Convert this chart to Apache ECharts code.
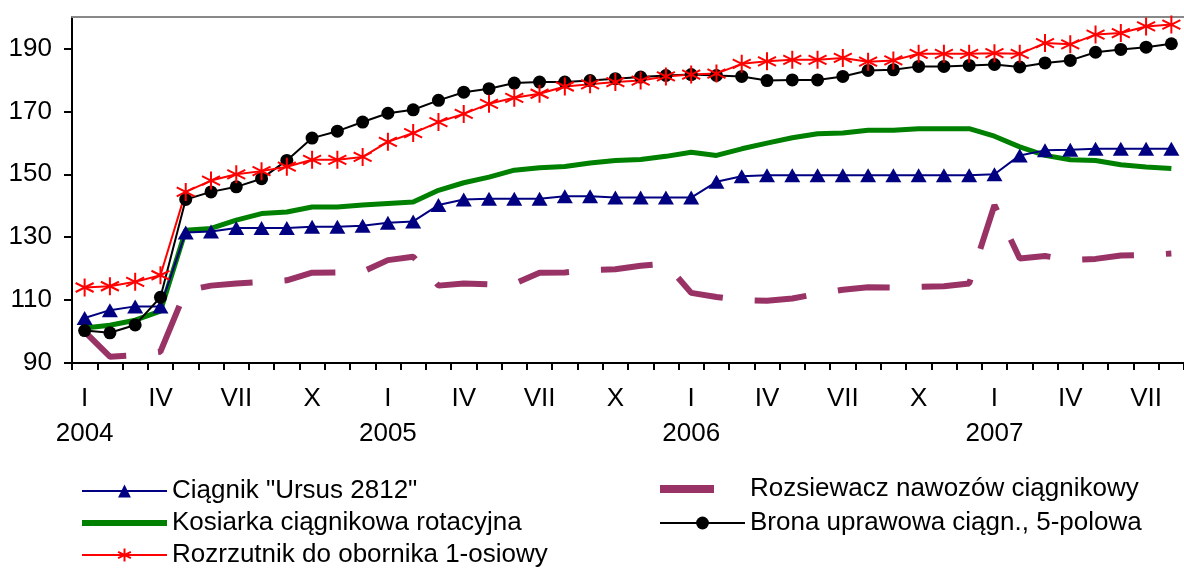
<!DOCTYPE html>
<html>
<head>
<meta charset="utf-8">
<script src="https://cdn.jsdelivr.net/npm/echarts@6/dist/echarts.min.js"></script>
<style>
  html, body { margin: 0; padding: 0; background: #fff; }
  #chart { width: 1184px; height: 570px; }
</style>
</head>
<body>
<div id="chart"></div>
<script>
// osie: lata i miesiące (rzymskie)
const years = ['2004', '2005', '2006', '2007']
const months = ['I', 'II', 'III', 'IV', 'V', 'VI', 'VII', 'VIII', 'IX', 'X', 'XI', 'XII']
const shownMonths = ['I', 'IV', 'VII', 'X']
const lastMonth2007 = 8 // do VIII 2007

// indeksy cen
const ursus = [104.3, 106.8, 108, 108, 131.5, 131.8, 132.9, 132.9, 132.9, 133.3, 133.3, 133.6,
  134.6, 135, 140.2, 142, 142.2, 142.2, 142.2, 143, 143, 142.6, 142.6, 142.6,
  142.6, 147.6, 149.4, 149.7, 149.7, 149.7, 149.7, 149.7, 149.7, 149.7, 149.7, 149.7,
  150, 156, 157.6, 157.8, 158.1, 158.1, 158.1, 158.1]
const rozsiewacz = [100, 92, 92.5, 93.6, 113, 114.6, 115.3, 115.7, 116.3, 118.7, 118.8, 119,
  122.7, 123.8, 114.6, 115.3, 115, 115.2, 118.7, 118.8, 119.5, 119.8, 120.9, 121.6,
  112.3, 111, 110, 109.8, 110.5, 112, 113.3, 114.1, 114, 114.2, 114.4, 115.3,
  140.2, 123.2, 124, 122.8, 123.1, 124.2, 124.3, 124.8]
const kosiarka = [101.1, 102, 103.6, 106.5, 132.2, 132.8, 135.4, 137.5, 138, 139.6, 139.6, 140.2,
  140.7, 141.2, 144.9, 147.3, 149.1, 151.3, 152.1, 152.5, 153.6, 154.4, 154.7, 155.7,
  157, 156, 158.1, 159.9, 161.6, 162.9, 163.1, 164, 164, 164.5, 164.5, 164.5,
  162.1, 158.7, 156, 154.6, 154.4, 153, 152.3, 151.8]
const brona = [100.3, 99.6, 102.1, 110.9, 142, 144.4, 146, 148.6, 154.4, 161.5, 163.7, 166.6,
  169.4, 170.5, 173.5, 176.1, 177.2, 179, 179.3, 179.3, 179.8, 180.4, 180.9, 181.4,
  181.7, 181.4, 181.1, 179.8, 180, 180, 181.1, 183, 183.2, 184.3, 184.3, 184.6,
  184.9, 184.1, 185.4, 186.2, 188.8, 189.7, 190.4, 191.5]
const rozrzutnik = [114, 114.4, 115.8, 117.9, 144.4, 148, 150, 151, 152.4, 154.6, 154.6, 155.5,
  160.3, 163.1, 166.6, 169.2, 172.4, 174.3, 175.6, 177.9, 178.6, 179.3, 179.8, 181.1,
  181.7, 182, 185.1, 185.9, 186.4, 186.4, 187, 185.8, 186.2, 188.3, 188.3, 188.3,
  188.5, 188.3, 191.7, 191.3, 194.4, 194.9, 197, 197.6]

const names = {
  ursus: 'Ciągnik "Ursus 2812"',
  rozsiewacz: 'Rozsiewacz nawozów ciągnikowy',
  kosiarka: 'Kosiarka ciągnikowa rotacyjna',
  brona: 'Brona uprawowa ciągn., 5-polowa',
  rozrzutnik: 'Rozrzutnik do obornika 1-osiowy'
}

const categories = []
years.forEach((y, yi) => {
  const n = yi === years.length - 1 ? lastMonth2007 : 12
  for (let m = 0; m < n; m++) categories.push(y + '-' + months[m])
})

const FONT = '"Liberation Sans", Arial, sans-serif'
const asterisk = 'path://M0,-10L0,10M-8.7,-5L8.7,5M-8.7,5L8.7,-5'

const legendText = { color: '#000', fontSize: 26, fontFamily: FONT, lineHeight: 26 }

const chart = echarts.init(document.getElementById('chart'))

const option = {
  animation: false,
  textStyle: { fontFamily: FONT },
  grid: { left: 72, right: 0, top: 17, bottom: 207 },
  xAxis: [
    {
      type: 'category',
      data: categories,
      boundaryGap: true,
      axisLine: { lineStyle: { color: '#000', width: 2 } },
      axisTick: { show: true, interval: 0, length: 7, lineStyle: { color: '#000', width: 2 } },
      axisLabel: {
        interval: 0,
        margin: 18,
        color: '#000',
        fontSize: 26,
        fontFamily: FONT,
        lineHeight: 35,
        formatter: (v) => {
          const [y, m] = v.split('-')
          if (!shownMonths.includes(m)) return ''
          return m === 'I' ? m + '\n' + y : m
        }
      }
    },
    {
      type: 'category',
      data: categories,
      position: 'top',
      axisLine: { lineStyle: { color: '#888', width: 2 } },
      axisTick: { show: false },
      axisLabel: { show: false }
    }
  ],
  yAxis: {
    type: 'value',
    min: 90,
    max: 200,
    interval: 20,
    axisLine: { show: true, lineStyle: { color: '#000', width: 2 } },
    axisTick: { show: true, length: 8, lineStyle: { color: '#000', width: 2 } },
    splitLine: { show: false },
    axisLabel: {
      color: '#000',
      fontSize: 26,
      fontFamily: FONT,
      margin: 20,
      showMaxLabel: false,
      formatter: (v) => (v >= 200 ? '' : String(v))
    }
  },
  legend: [
    {
      left: 81,
      top: 478,
      padding: 0,
      orient: 'vertical',
      itemWidth: 85,
      itemHeight: 16,
      itemGap: 6,
      textStyle: legendText,
      data: [
        names.ursus,
        { name: names.kosiarka, icon: 'path://M0,0H85V6H0Z' },
        names.rozrzutnik
      ]
    },
    {
      left: 660,
      top: 476,
      padding: 0,
      orient: 'vertical',
      itemWidth: 54,
      itemHeight: 16,
      textStyle: Object.assign({}, legendText, { padding: [0, 0, 0, 31] }),
      data: [{ name: names.rozsiewacz, icon: 'path://M0,0H54V8H0Z' }]
    },
    {
      left: 659,
      top: 510,
      padding: 0,
      orient: 'vertical',
      itemWidth: 85,
      itemHeight: 16,
      textStyle: legendText,
      data: [names.brona]
    }
  ],
  series: [
    {
      name: names.rozsiewacz,
      type: 'line',
      data: rozsiewacz,
      symbol: 'none',
      itemStyle: { color: '#993366' },
      lineStyle: { color: '#993366', width: 6, type: [52, 32], cap: 'butt' }
    },
    {
      name: names.kosiarka,
      type: 'line',
      data: kosiarka,
      symbol: 'none',
      itemStyle: { color: '#008000' },
      lineStyle: { color: '#008000', width: 5 }
    },
    {
      name: names.ursus,
      type: 'line',
      data: ursus,
      symbol: 'triangle',
      symbolSize: [16, 14],
      itemStyle: { color: '#000080', borderWidth: 0 },
      lineStyle: { color: '#000080', width: 2 }
    },
    {
      name: names.brona,
      type: 'line',
      data: brona,
      symbol: 'circle',
      symbolSize: 13,
      itemStyle: { color: '#000', borderWidth: 0 },
      lineStyle: { color: '#000', width: 2 }
    },
    {
      name: names.rozrzutnik,
      type: 'line',
      data: rozrzutnik,
      symbol: asterisk,
      symbolSize: 18,
      itemStyle: { color: '#ff0000', borderColor: '#ff0000', borderWidth: 2 },
      lineStyle: { color: '#ff0000', width: 2 }
    }
  ]
}

chart.setOption(option)
</script>
</body>
</html>
